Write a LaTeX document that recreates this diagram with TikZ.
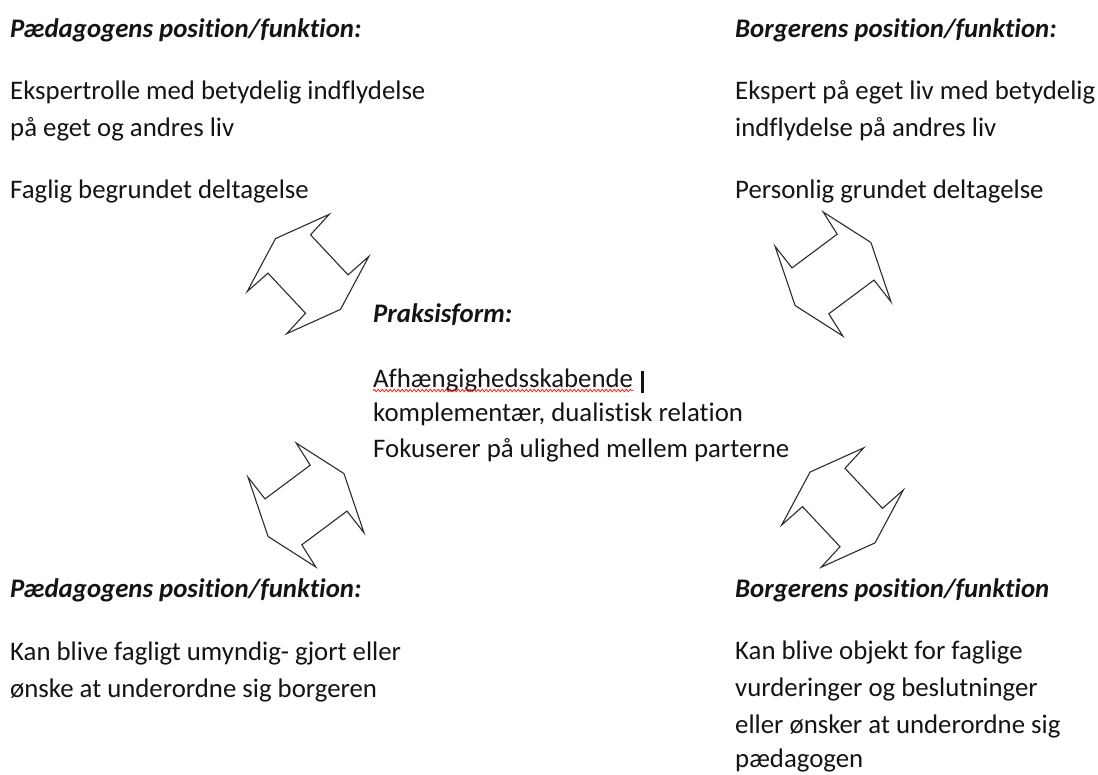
\documentclass[tikz,border=0pt]{standalone}
\usepackage{fontspec}
\setmainfont[Ligatures=NoCommon]{Carlito}
\usetikzlibrary{decorations.pathmorphing}
\definecolor{ink}{RGB}{20,20,20}
\definecolor{outline}{RGB}{45,45,45}
\definecolor{spell}{RGB}{235,40,40}

\tikzset{
  head/.style={anchor=base west, inner sep=0pt, text=ink, font=\fontsize{26.8}{31}\selectfont\bfseries\itshape},
  body/.style={anchor=base west, inner sep=0pt, text=ink, font=\fontsize{26.8}{31}\selectfont},
  arrowline/.style={draw=outline, line width=1.1pt, line join=miter, fill=white},
  % double arrow, tilted one way
  swapA/.pic={\draw[arrowline] (21.3,-59.7) -- (-32.5,-35.4) -- (-60.8,17.5) -- (-40,-0.85)
    -- (-2.5,39.2) -- (-21.3,59.7) -- (32.5,35.4) -- (60.8,-17.5) -- (40,0.85) -- (2.5,-39.2) -- cycle;},
  % double arrow, tilted the other way
  swapB/.pic={\draw[arrowline] (-9.8,-62) -- (37.9,-31.5) -- (58,27.8) -- (41,6.1)
    -- (-4.2,39.8) -- (9.8,62) -- (-37.9,31.5) -- (-58,-27.8) -- (-41,-6.1) -- (4.2,-39.8) -- cycle;}
}

\begin{document}
\begin{tikzpicture}[x=1pt, y=-1pt]
\fill[white] (0,0) rectangle (1098,774);
\useasboundingbox (0,0) rectangle (1098,774);

% upper left
\node[head] (pedhead) at (10,37) {Pædagogens position/funktion:};
\node[body] (pedA) at (10,99) {Ekspertrolle med betydelig indflydelse};
\node[body] (pedB) at (10,136) {på eget og andres liv};
\node[body] (pedC) at (10,198) {Faglig begrundet deltagelse};

% upper right
\node[head] (borhead) at (735,37) {Borgerens position/funktion:};
\node[body] (borA) at (735,99) {Ekspert på eget liv med betydelig};
\node[body] (borB) at (735,136) {indflydelse på andres liv};
\node[body] (borC) at (735,198) {Personlig grundet deltagelse};

% centre
\node[head] (prakhead) at (373,322) {Praksisform:};
\node[body] (afh) at (373,387) {Afhængighedsskabende};
\node[body] (komp) at (373,421) {komplementær, dualistisk relation};
\node[body] (fok) at (373,457) {Fokuserer på ulighed mellem parterne};
\draw[spell, line width=0.8pt, decorate, decoration={snake, amplitude=1.3pt, segment length=4pt}]
  ([yshift=-3.5pt]afh.base west) -- ([yshift=-3.5pt]afh.base east);
\draw[ink, line width=2.5pt] ([xshift=9pt, yshift=16pt]afh.base east) -- ([xshift=9pt, yshift=-6pt]afh.base east);

% lower left
\node[head] (pedhead2) at (10,597) {Pædagogens position/funktion:};
\node[body] (pedD) at (10,660) {Kan blive fagligt umyndig- gjort eller};
\node[body] (pedE) at (10,697) {ønske at underordne sig borgeren};

% lower right
\node[head] (borhead2) at (735,597) {Borgerens position/funktion};
\node[body] (borD) at (735,659) {Kan blive objekt for faglige};
\node[body] (borE) at (735,696) {vurderinger og beslutninger};
\node[body] (borF) at (735,733) {eller ønsker at underordne sig};
\node[body] (borG) at (735,767) {pædagogen};

% double arrows
\pic at (308,274) {swapA};
\pic at (833,274) {swapB};
\pic at (306,505) {swapB};
\pic at (842.5,507.5) {swapA};
\end{tikzpicture}
\end{document}
